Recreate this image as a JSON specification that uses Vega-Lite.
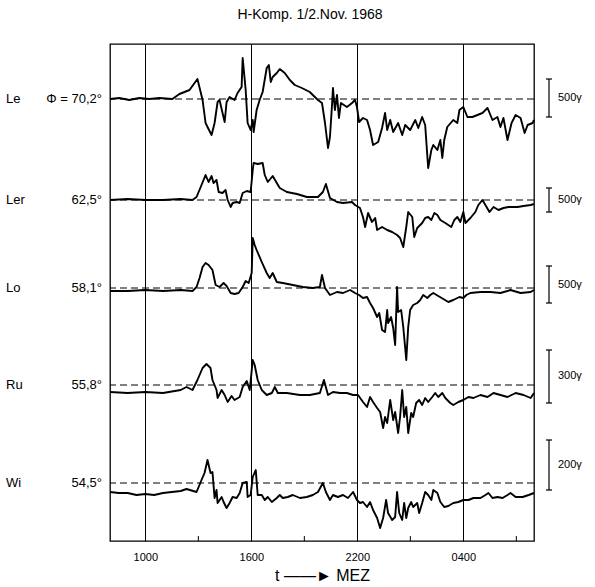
{
  "$schema": "https://vega.github.io/schema/vega-lite/v6.json",
  "width": 424,
  "height": 497,
  "autosize": {"type": "none"},
  "padding": {"left": 110, "top": 44, "right": 61, "bottom": 46},
  "background": "white",
  "title": {"text": "H-Komp.  1/2.Nov. 1968", "fontSize": 14, "font": "Liberation Sans", "fontWeight": "normal", "color": "black", "offset": 22, "dx": -12},
  "config": {
    "view": {"stroke": "black", "strokeWidth": 1.3},
    "font": "Liberation Sans"
  },
  "datasets": {
    "bases": [
      {"s": "Le", "lat": "Φ = 70,2°", "v": 442},
      {"s": "Ler", "lat": "62,5°", "v": 341},
      {"s": "Lo", "lat": "58,1°", "v": 253},
      {"s": "Ru", "lat": "55,8°", "v": 156},
      {"s": "Wi", "lat": "54,5°", "v": 58}
    ],
    "bars": [
      {"s": "Le", "y1": 462, "y2": 424, "mid": 443, "label": "500γ"},
      {"s": "Ler", "y1": 353, "y2": 329, "mid": 341, "label": "500γ"},
      {"s": "Lo", "y1": 275, "y2": 238, "mid": 256, "label": "500γ"},
      {"s": "Ru", "y1": 191, "y2": 138, "mid": 165, "label": "300γ"},
      {"s": "Wi", "y1": 101, "y2": 51, "mid": 76, "label": "200γ"}
    ],
    "minor": [{"t": 13}, {"t": 19}, {"t": 25}, {"t": 31}],
    "traces": [
      {"s":"Le","t":8.0,"v":442},{"s":"Le","t":8.52,"v":443},{"s":"Le","t":9.09,"v":441},{"s":"Le","t":9.66,"v":443},{"s":"Le","t":10.23,"v":442},{"s":"Le","t":10.8,"v":443},{"s":"Le","t":11.53,"v":442},{"s":"Le","t":11.93,"v":447},{"s":"Le","t":12.5,"v":451},{"s":"Le","t":12.95,"v":462},{"s":"Le","t":13.24,"v":441},{"s":"Le","t":13.41,"v":418},{"s":"Le","t":13.52,"v":414},{"s":"Le","t":13.75,"v":406},{"s":"Le","t":13.92,"v":418},{"s":"Le","t":14.09,"v":439},{"s":"Le","t":14.2,"v":441},{"s":"Le","t":14.37,"v":428},{"s":"Le","t":14.49,"v":419},{"s":"Le","t":14.6,"v":439},{"s":"Le","t":14.77,"v":444},{"s":"Le","t":15.05,"v":441},{"s":"Le","t":15.22,"v":448},{"s":"Le","t":15.45,"v":454},{"s":"Le","t":15.51,"v":483},{"s":"Le","t":15.68,"v":451},{"s":"Le","t":15.79,"v":418},{"s":"Le","t":15.96,"v":411},{"s":"Le","t":16.08,"v":421},{"s":"Le","t":16.13,"v":409},{"s":"Le","t":16.3,"v":431},{"s":"Le","t":16.47,"v":441},{"s":"Le","t":16.64,"v":449},{"s":"Le","t":16.87,"v":473},{"s":"Le","t":16.99,"v":476},{"s":"Le","t":17.1,"v":459},{"s":"Le","t":17.21,"v":464},{"s":"Le","t":17.44,"v":468},{"s":"Le","t":17.61,"v":472},{"s":"Le","t":17.89,"v":468},{"s":"Le","t":18.18,"v":461},{"s":"Le","t":18.46,"v":456},{"s":"Le","t":18.86,"v":453},{"s":"Le","t":19.31,"v":449},{"s":"Le","t":19.48,"v":446},{"s":"Le","t":19.77,"v":441},{"s":"Le","t":20.0,"v":438},{"s":"Le","t":20.17,"v":418},{"s":"Le","t":20.34,"v":393},{"s":"Le","t":20.45,"v":404},{"s":"Le","t":20.56,"v":434},{"s":"Le","t":20.62,"v":453},{"s":"Le","t":20.73,"v":431},{"s":"Le","t":20.85,"v":446},{"s":"Le","t":20.96,"v":423},{"s":"Le","t":21.07,"v":438},{"s":"Le","t":21.41,"v":434},{"s":"Le","t":21.7,"v":438},{"s":"Le","t":21.87,"v":441},{"s":"Le","t":21.98,"v":434},{"s":"Le","t":22.1,"v":419},{"s":"Le","t":22.32,"v":423},{"s":"Le","t":22.55,"v":421},{"s":"Le","t":22.72,"v":411},{"s":"Le","t":22.89,"v":396},{"s":"Le","t":23.18,"v":399},{"s":"Le","t":23.4,"v":413},{"s":"Le","t":23.57,"v":428},{"s":"Le","t":23.69,"v":411},{"s":"Le","t":23.86,"v":421},{"s":"Le","t":24.03,"v":409},{"s":"Le","t":24.31,"v":418},{"s":"Le","t":24.54,"v":406},{"s":"Le","t":24.71,"v":416},{"s":"Le","t":24.99,"v":411},{"s":"Le","t":25.28,"v":421},{"s":"Le","t":25.45,"v":413},{"s":"Le","t":25.67,"v":424},{"s":"Le","t":25.84,"v":416},{"s":"Le","t":26.01,"v":373},{"s":"Le","t":26.19,"v":391},{"s":"Le","t":26.3,"v":396},{"s":"Le","t":26.53,"v":391},{"s":"Le","t":26.7,"v":401},{"s":"Le","t":26.81,"v":383},{"s":"Le","t":26.92,"v":401},{"s":"Le","t":27.09,"v":414},{"s":"Le","t":27.43,"v":421},{"s":"Le","t":27.66,"v":418},{"s":"Le","t":27.78,"v":431},{"s":"Le","t":28.0,"v":434},{"s":"Le","t":28.23,"v":424},{"s":"Le","t":28.51,"v":424},{"s":"Le","t":28.8,"v":426},{"s":"Le","t":29.08,"v":428},{"s":"Le","t":29.37,"v":433},{"s":"Le","t":29.65,"v":421},{"s":"Le","t":29.93,"v":424},{"s":"Le","t":30.1,"v":414},{"s":"Le","t":30.27,"v":423},{"s":"Le","t":30.5,"v":401},{"s":"Le","t":30.73,"v":418},{"s":"Le","t":30.96,"v":426},{"s":"Le","t":31.24,"v":423},{"s":"Le","t":31.47,"v":408},{"s":"Le","t":31.64,"v":416},{"s":"Le","t":31.92,"v":418},{"s":"Le","t":32.0,"v":421},

      {"s":"Ler","t":8.0,"v":341},{"s":"Ler","t":9.0,"v":342},{"s":"Ler","t":10.0,"v":341},{"s":"Ler","t":11.0,"v":341},{"s":"Ler","t":12.0,"v":342},{"s":"Ler","t":12.67,"v":341},{"s":"Ler","t":12.9,"v":344},{"s":"Ler","t":13.18,"v":356},{"s":"Ler","t":13.41,"v":366},{"s":"Ler","t":13.58,"v":359},{"s":"Ler","t":13.75,"v":365},{"s":"Ler","t":13.86,"v":358},{"s":"Ler","t":14.03,"v":361},{"s":"Ler","t":14.15,"v":349},{"s":"Ler","t":14.37,"v":348},{"s":"Ler","t":14.54,"v":351},{"s":"Ler","t":14.66,"v":341},{"s":"Ler","t":14.83,"v":334},{"s":"Ler","t":14.94,"v":338},{"s":"Ler","t":15.17,"v":339},{"s":"Ler","t":15.34,"v":338},{"s":"Ler","t":15.51,"v":348},{"s":"Ler","t":15.74,"v":350},{"s":"Ler","t":15.96,"v":349},{"s":"Ler","t":16.08,"v":371},{"s":"Ler","t":16.13,"v":378},{"s":"Ler","t":16.36,"v":377},{"s":"Ler","t":16.64,"v":378},{"s":"Ler","t":16.76,"v":366},{"s":"Ler","t":16.93,"v":359},{"s":"Ler","t":17.21,"v":365},{"s":"Ler","t":17.44,"v":358},{"s":"Ler","t":17.61,"v":353},{"s":"Ler","t":18.01,"v":349},{"s":"Ler","t":18.58,"v":347},{"s":"Ler","t":19.14,"v":344},{"s":"Ler","t":19.77,"v":344},{"s":"Ler","t":20.05,"v":349},{"s":"Ler","t":20.22,"v":357},{"s":"Ler","t":20.45,"v":343},{"s":"Ler","t":20.85,"v":339},{"s":"Ler","t":21.19,"v":338},{"s":"Ler","t":21.7,"v":339},{"s":"Ler","t":21.87,"v":336},{"s":"Ler","t":22.15,"v":333},{"s":"Ler","t":22.32,"v":324},{"s":"Ler","t":22.44,"v":314},{"s":"Ler","t":22.61,"v":328},{"s":"Ler","t":22.83,"v":319},{"s":"Ler","t":23.01,"v":323},{"s":"Ler","t":23.12,"v":311},{"s":"Ler","t":23.4,"v":314},{"s":"Ler","t":23.69,"v":311},{"s":"Ler","t":23.97,"v":309},{"s":"Ler","t":24.25,"v":306},{"s":"Ler","t":24.42,"v":303},{"s":"Ler","t":24.6,"v":294},{"s":"Ler","t":24.77,"v":314},{"s":"Ler","t":24.88,"v":329},{"s":"Ler","t":25.11,"v":324},{"s":"Ler","t":25.22,"v":304},{"s":"Ler","t":25.39,"v":313},{"s":"Ler","t":25.67,"v":318},{"s":"Ler","t":25.84,"v":323},{"s":"Ler","t":26.01,"v":324},{"s":"Ler","t":26.19,"v":321},{"s":"Ler","t":26.36,"v":328},{"s":"Ler","t":26.53,"v":326},{"s":"Ler","t":26.7,"v":321},{"s":"Ler","t":26.98,"v":318},{"s":"Ler","t":27.32,"v":314},{"s":"Ler","t":27.49,"v":321},{"s":"Ler","t":27.66,"v":324},{"s":"Ler","t":27.83,"v":319},{"s":"Ler","t":28.0,"v":329},{"s":"Ler","t":28.12,"v":318},{"s":"Ler","t":28.4,"v":323},{"s":"Ler","t":28.68,"v":329},{"s":"Ler","t":28.85,"v":336},{"s":"Ler","t":29.08,"v":341},{"s":"Ler","t":29.25,"v":336},{"s":"Ler","t":29.48,"v":329},{"s":"Ler","t":29.71,"v":334},{"s":"Ler","t":29.99,"v":331},{"s":"Ler","t":30.27,"v":333},{"s":"Ler","t":30.56,"v":334},{"s":"Ler","t":31.07,"v":334},{"s":"Ler","t":31.41,"v":335},{"s":"Ler","t":31.81,"v":336},{"s":"Ler","t":32.0,"v":337},

      {"s":"Lo","t":8.0,"v":250},{"s":"Lo","t":9.0,"v":250},{"s":"Lo","t":10.0,"v":251},{"s":"Lo","t":11.0,"v":250},{"s":"Lo","t":12.0,"v":251},{"s":"Lo","t":12.67,"v":250},{"s":"Lo","t":12.9,"v":254},{"s":"Lo","t":13.07,"v":263},{"s":"Lo","t":13.24,"v":274},{"s":"Lo","t":13.41,"v":278},{"s":"Lo","t":13.58,"v":276},{"s":"Lo","t":13.8,"v":271},{"s":"Lo","t":13.98,"v":256},{"s":"Lo","t":14.2,"v":254},{"s":"Lo","t":14.43,"v":258},{"s":"Lo","t":14.6,"v":255},{"s":"Lo","t":14.83,"v":248},{"s":"Lo","t":15.05,"v":247},{"s":"Lo","t":15.28,"v":248},{"s":"Lo","t":15.51,"v":254},{"s":"Lo","t":15.68,"v":260},{"s":"Lo","t":15.85,"v":258},{"s":"Lo","t":16.02,"v":268},{"s":"Lo","t":16.08,"v":303},{"s":"Lo","t":16.19,"v":296},{"s":"Lo","t":16.3,"v":291},{"s":"Lo","t":16.59,"v":279},{"s":"Lo","t":16.87,"v":268},{"s":"Lo","t":17.04,"v":263},{"s":"Lo","t":17.21,"v":268},{"s":"Lo","t":17.44,"v":259},{"s":"Lo","t":17.78,"v":258},{"s":"Lo","t":18.35,"v":256},{"s":"Lo","t":18.92,"v":254},{"s":"Lo","t":19.48,"v":253},{"s":"Lo","t":19.88,"v":254},{"s":"Lo","t":20.0,"v":266},{"s":"Lo","t":20.17,"v":253},{"s":"Lo","t":20.45,"v":246},{"s":"Lo","t":20.85,"v":249},{"s":"Lo","t":21.19,"v":248},{"s":"Lo","t":21.59,"v":251},{"s":"Lo","t":21.87,"v":248},{"s":"Lo","t":22.1,"v":246},{"s":"Lo","t":22.32,"v":243},{"s":"Lo","t":22.55,"v":244},{"s":"Lo","t":22.72,"v":238},{"s":"Lo","t":22.89,"v":233},{"s":"Lo","t":23.12,"v":224},{"s":"Lo","t":23.24,"v":228},{"s":"Lo","t":23.4,"v":211},{"s":"Lo","t":23.57,"v":209},{"s":"Lo","t":23.69,"v":231},{"s":"Lo","t":23.74,"v":218},{"s":"Lo","t":23.91,"v":224},{"s":"Lo","t":24.03,"v":213},{"s":"Lo","t":24.14,"v":196},{"s":"Lo","t":24.25,"v":254},{"s":"Lo","t":24.31,"v":229},{"s":"Lo","t":24.48,"v":231},{"s":"Lo","t":24.6,"v":214},{"s":"Lo","t":24.77,"v":181},{"s":"Lo","t":24.88,"v":214},{"s":"Lo","t":24.99,"v":231},{"s":"Lo","t":25.16,"v":236},{"s":"Lo","t":25.39,"v":238},{"s":"Lo","t":25.56,"v":241},{"s":"Lo","t":25.73,"v":246},{"s":"Lo","t":25.96,"v":243},{"s":"Lo","t":26.13,"v":246},{"s":"Lo","t":26.3,"v":248},{"s":"Lo","t":26.58,"v":245},{"s":"Lo","t":26.87,"v":242},{"s":"Lo","t":27.15,"v":239},{"s":"Lo","t":27.43,"v":241},{"s":"Lo","t":27.78,"v":244},{"s":"Lo","t":28.0,"v":243},{"s":"Lo","t":28.17,"v":246},{"s":"Lo","t":28.4,"v":248},{"s":"Lo","t":28.97,"v":249},{"s":"Lo","t":29.54,"v":249},{"s":"Lo","t":30.1,"v":248},{"s":"Lo","t":30.67,"v":251},{"s":"Lo","t":31.24,"v":248},{"s":"Lo","t":31.81,"v":249},{"s":"Lo","t":32.0,"v":251},

      {"s":"Ru","t":8.0,"v":149},{"s":"Ru","t":9.0,"v":148},{"s":"Ru","t":10.0,"v":149},{"s":"Ru","t":11.0,"v":148},{"s":"Ru","t":12.0,"v":151},{"s":"Ru","t":12.33,"v":154},{"s":"Ru","t":12.67,"v":151},{"s":"Ru","t":12.95,"v":161},{"s":"Ru","t":13.24,"v":173},{"s":"Ru","t":13.46,"v":177},{"s":"Ru","t":13.69,"v":173},{"s":"Ru","t":13.8,"v":161},{"s":"Ru","t":14.03,"v":151},{"s":"Ru","t":14.09,"v":143},{"s":"Ru","t":14.32,"v":151},{"s":"Ru","t":14.49,"v":146},{"s":"Ru","t":14.66,"v":139},{"s":"Ru","t":14.88,"v":145},{"s":"Ru","t":15.05,"v":141},{"s":"Ru","t":15.34,"v":144},{"s":"Ru","t":15.51,"v":154},{"s":"Ru","t":15.74,"v":160},{"s":"Ru","t":15.91,"v":151},{"s":"Ru","t":16.08,"v":181},{"s":"Ru","t":16.19,"v":176},{"s":"Ru","t":16.36,"v":161},{"s":"Ru","t":16.59,"v":151},{"s":"Ru","t":16.87,"v":146},{"s":"Ru","t":17.16,"v":148},{"s":"Ru","t":17.33,"v":154},{"s":"Ru","t":17.5,"v":148},{"s":"Ru","t":18.01,"v":148},{"s":"Ru","t":18.75,"v":146},{"s":"Ru","t":19.31,"v":146},{"s":"Ru","t":19.88,"v":148},{"s":"Ru","t":20.11,"v":161},{"s":"Ru","t":20.34,"v":146},{"s":"Ru","t":20.62,"v":149},{"s":"Ru","t":21.02,"v":148},{"s":"Ru","t":21.41,"v":148},{"s":"Ru","t":21.76,"v":146},{"s":"Ru","t":22.04,"v":146},{"s":"Ru","t":22.32,"v":139},{"s":"Ru","t":22.55,"v":134},{"s":"Ru","t":22.72,"v":144},{"s":"Ru","t":22.89,"v":139},{"s":"Ru","t":23.12,"v":133},{"s":"Ru","t":23.29,"v":129},{"s":"Ru","t":23.46,"v":113},{"s":"Ru","t":23.57,"v":124},{"s":"Ru","t":23.69,"v":118},{"s":"Ru","t":23.86,"v":141},{"s":"Ru","t":24.03,"v":121},{"s":"Ru","t":24.14,"v":129},{"s":"Ru","t":24.31,"v":108},{"s":"Ru","t":24.42,"v":124},{"s":"Ru","t":24.54,"v":151},{"s":"Ru","t":24.65,"v":124},{"s":"Ru","t":24.77,"v":134},{"s":"Ru","t":24.88,"v":108},{"s":"Ru","t":25.05,"v":128},{"s":"Ru","t":25.16,"v":124},{"s":"Ru","t":25.33,"v":138},{"s":"Ru","t":25.5,"v":141},{"s":"Ru","t":25.67,"v":136},{"s":"Ru","t":25.84,"v":143},{"s":"Ru","t":26.01,"v":139},{"s":"Ru","t":26.24,"v":144},{"s":"Ru","t":26.41,"v":148},{"s":"Ru","t":26.58,"v":144},{"s":"Ru","t":26.81,"v":148},{"s":"Ru","t":26.98,"v":143},{"s":"Ru","t":27.26,"v":138},{"s":"Ru","t":27.43,"v":136},{"s":"Ru","t":27.72,"v":139},{"s":"Ru","t":28.0,"v":141},{"s":"Ru","t":28.29,"v":144},{"s":"Ru","t":28.57,"v":143},{"s":"Ru","t":28.97,"v":146},{"s":"Ru","t":29.37,"v":144},{"s":"Ru","t":29.71,"v":148},{"s":"Ru","t":30.1,"v":146},{"s":"Ru","t":30.5,"v":144},{"s":"Ru","t":30.96,"v":148},{"s":"Ru","t":31.41,"v":146},{"s":"Ru","t":31.81,"v":143},{"s":"Ru","t":32.0,"v":148},

      {"s":"Wi","t":8.0,"v":49},{"s":"Wi","t":8.5,"v":48},{"s":"Wi","t":9.0,"v":48},{"s":"Wi","t":9.5,"v":46},{"s":"Wi","t":10.0,"v":47},{"s":"Wi","t":10.5,"v":46},{"s":"Wi","t":11.0,"v":48},{"s":"Wi","t":11.5,"v":49},{"s":"Wi","t":12.0,"v":50},{"s":"Wi","t":12.33,"v":52},{"s":"Wi","t":12.9,"v":49},{"s":"Wi","t":13.18,"v":61},{"s":"Wi","t":13.35,"v":68},{"s":"Wi","t":13.52,"v":81},{"s":"Wi","t":13.69,"v":68},{"s":"Wi","t":13.8,"v":69},{"s":"Wi","t":13.92,"v":43},{"s":"Wi","t":14.03,"v":51},{"s":"Wi","t":14.09,"v":38},{"s":"Wi","t":14.32,"v":44},{"s":"Wi","t":14.43,"v":39},{"s":"Wi","t":14.6,"v":33},{"s":"Wi","t":14.77,"v":38},{"s":"Wi","t":14.94,"v":44},{"s":"Wi","t":15.17,"v":43},{"s":"Wi","t":15.34,"v":48},{"s":"Wi","t":15.51,"v":58},{"s":"Wi","t":15.74,"v":59},{"s":"Wi","t":15.79,"v":44},{"s":"Wi","t":15.96,"v":46},{"s":"Wi","t":16.08,"v":64},{"s":"Wi","t":16.25,"v":71},{"s":"Wi","t":16.36,"v":46},{"s":"Wi","t":16.59,"v":46},{"s":"Wi","t":16.76,"v":41},{"s":"Wi","t":16.93,"v":44},{"s":"Wi","t":17.16,"v":39},{"s":"Wi","t":17.44,"v":43},{"s":"Wi","t":17.61,"v":46},{"s":"Wi","t":17.78,"v":43},{"s":"Wi","t":18.06,"v":44},{"s":"Wi","t":18.35,"v":46},{"s":"Wi","t":18.75,"v":43},{"s":"Wi","t":19.14,"v":44},{"s":"Wi","t":19.48,"v":46},{"s":"Wi","t":19.77,"v":49},{"s":"Wi","t":20.05,"v":58},{"s":"Wi","t":20.22,"v":49},{"s":"Wi","t":20.45,"v":41},{"s":"Wi","t":20.62,"v":46},{"s":"Wi","t":20.9,"v":44},{"s":"Wi","t":21.19,"v":46},{"s":"Wi","t":21.47,"v":43},{"s":"Wi","t":21.76,"v":49},{"s":"Wi","t":21.98,"v":41},{"s":"Wi","t":22.15,"v":38},{"s":"Wi","t":22.32,"v":39},{"s":"Wi","t":22.55,"v":34},{"s":"Wi","t":22.72,"v":39},{"s":"Wi","t":22.89,"v":31},{"s":"Wi","t":23.12,"v":23},{"s":"Wi","t":23.29,"v":13},{"s":"Wi","t":23.46,"v":23},{"s":"Wi","t":23.63,"v":41},{"s":"Wi","t":23.74,"v":28},{"s":"Wi","t":23.97,"v":21},{"s":"Wi","t":24.14,"v":24},{"s":"Wi","t":24.25,"v":49},{"s":"Wi","t":24.37,"v":28},{"s":"Wi","t":24.54,"v":21},{"s":"Wi","t":24.65,"v":38},{"s":"Wi","t":24.77,"v":23},{"s":"Wi","t":24.88,"v":33},{"s":"Wi","t":25.05,"v":39},{"s":"Wi","t":25.16,"v":34},{"s":"Wi","t":25.39,"v":38},{"s":"Wi","t":25.5,"v":28},{"s":"Wi","t":25.67,"v":38},{"s":"Wi","t":25.84,"v":49},{"s":"Wi","t":26.01,"v":46},{"s":"Wi","t":26.19,"v":41},{"s":"Wi","t":26.3,"v":51},{"s":"Wi","t":26.53,"v":48},{"s":"Wi","t":26.7,"v":39},{"s":"Wi","t":26.92,"v":34},{"s":"Wi","t":27.15,"v":35},{"s":"Wi","t":27.43,"v":38},{"s":"Wi","t":27.72,"v":39},{"s":"Wi","t":28.0,"v":41},{"s":"Wi","t":28.29,"v":41},{"s":"Wi","t":28.57,"v":43},{"s":"Wi","t":28.97,"v":43},{"s":"Wi","t":29.25,"v":46},{"s":"Wi","t":29.42,"v":48},{"s":"Wi","t":29.65,"v":43},{"s":"Wi","t":29.93,"v":44},{"s":"Wi","t":30.22,"v":43},{"s":"Wi","t":30.5,"v":46},{"s":"Wi","t":30.67,"v":48},{"s":"Wi","t":30.96,"v":44},{"s":"Wi","t":31.36,"v":44},{"s":"Wi","t":31.7,"v":46},{"s":"Wi","t":32.0,"v":48}
    ]
  },
  "encoding": {
    "x": {"type": "quantitative", "scale": {"domain": [8, 32], "nice": false, "zero": false},
      "axis": {"values": [10, 16, 22, 28], "grid": true, "gridColor": "black", "gridWidth": 1, "gridOpacity": 1,
        "ticks": false, "domain": false, "labelExpr": "format(datum.value % 24, '02d') + '00'",
        "labelFont": "Liberation Sans", "labelFontSize": 11, "labelColor": "black", "labelPadding": 10,
        "title": "t ——► MEZ", "titleFont": "Liberation Sans", "titleFontSize": 16, "titleFontWeight": "normal", "titleColor": "black", "titlePadding": 5}},
    "y": {"type": "quantitative", "scale": {"domain": [0, 497], "nice": false, "zero": false}, "axis": null}
  },
  "layer": [
    {
      "data": {"name": "bases"},
      "mark": {"type": "rule", "color": "black", "strokeWidth": 1, "strokeDash": [7, 4]},
      "encoding": {"y": {"field": "v"}}
    },
    {
      "data": {"name": "minor"},
      "mark": {"type": "rule", "color": "black", "strokeWidth": 1},
      "encoding": {"x": {"field": "t"}, "y": {"datum": 0}, "y2": {"datum": 5}}
    },
    {
      "data": {"name": "traces"},
      "mark": {"type": "line", "color": "black", "strokeWidth": 1.9, "strokeJoin": "round"},
      "encoding": {"x": {"field": "t"}, "y": {"field": "v"}, "detail": {"field": "s"}}
    },
    {
      "data": {"name": "bases"},
      "mark": {"type": "text", "align": "left", "baseline": "middle", "dx": -104, "fontSize": 13, "font": "Liberation Sans", "color": "black"},
      "encoding": {"x": {"datum": 8}, "y": {"field": "v"}, "text": {"field": "s"}}
    },
    {
      "data": {"name": "bases"},
      "mark": {"type": "text", "align": "right", "baseline": "middle", "dx": -8, "fontSize": 13, "font": "Liberation Sans", "color": "black"},
      "encoding": {"x": {"datum": 8}, "y": {"field": "v"}, "text": {"field": "lat"}}
    },
    {
      "data": {"name": "bars"},
      "mark": {"type": "rule", "color": "black", "strokeWidth": 1.2, "xOffset": 15},
      "encoding": {"x": {"datum": 32}, "y": {"field": "y1"}, "y2": {"field": "y2"}}
    },
    {
      "data": {"name": "bars"},
      "mark": {"type": "rule", "color": "black", "strokeWidth": 1.2, "xOffset": 12, "x2Offset": 18},
      "encoding": {"x": {"datum": 32}, "x2": {"datum": 32}, "y": {"field": "y1"}}
    },
    {
      "data": {"name": "bars"},
      "mark": {"type": "rule", "color": "black", "strokeWidth": 1.2, "xOffset": 12, "x2Offset": 18},
      "encoding": {"x": {"datum": 32}, "x2": {"datum": 32}, "y": {"field": "y2"}}
    },
    {
      "data": {"name": "bars"},
      "mark": {"type": "text", "align": "left", "baseline": "middle", "dx": 24, "fontSize": 11, "font": "Liberation Sans", "color": "black"},
      "encoding": {"x": {"datum": 32}, "y": {"field": "mid"}, "text": {"field": "label"}}
    }
  ]
}
